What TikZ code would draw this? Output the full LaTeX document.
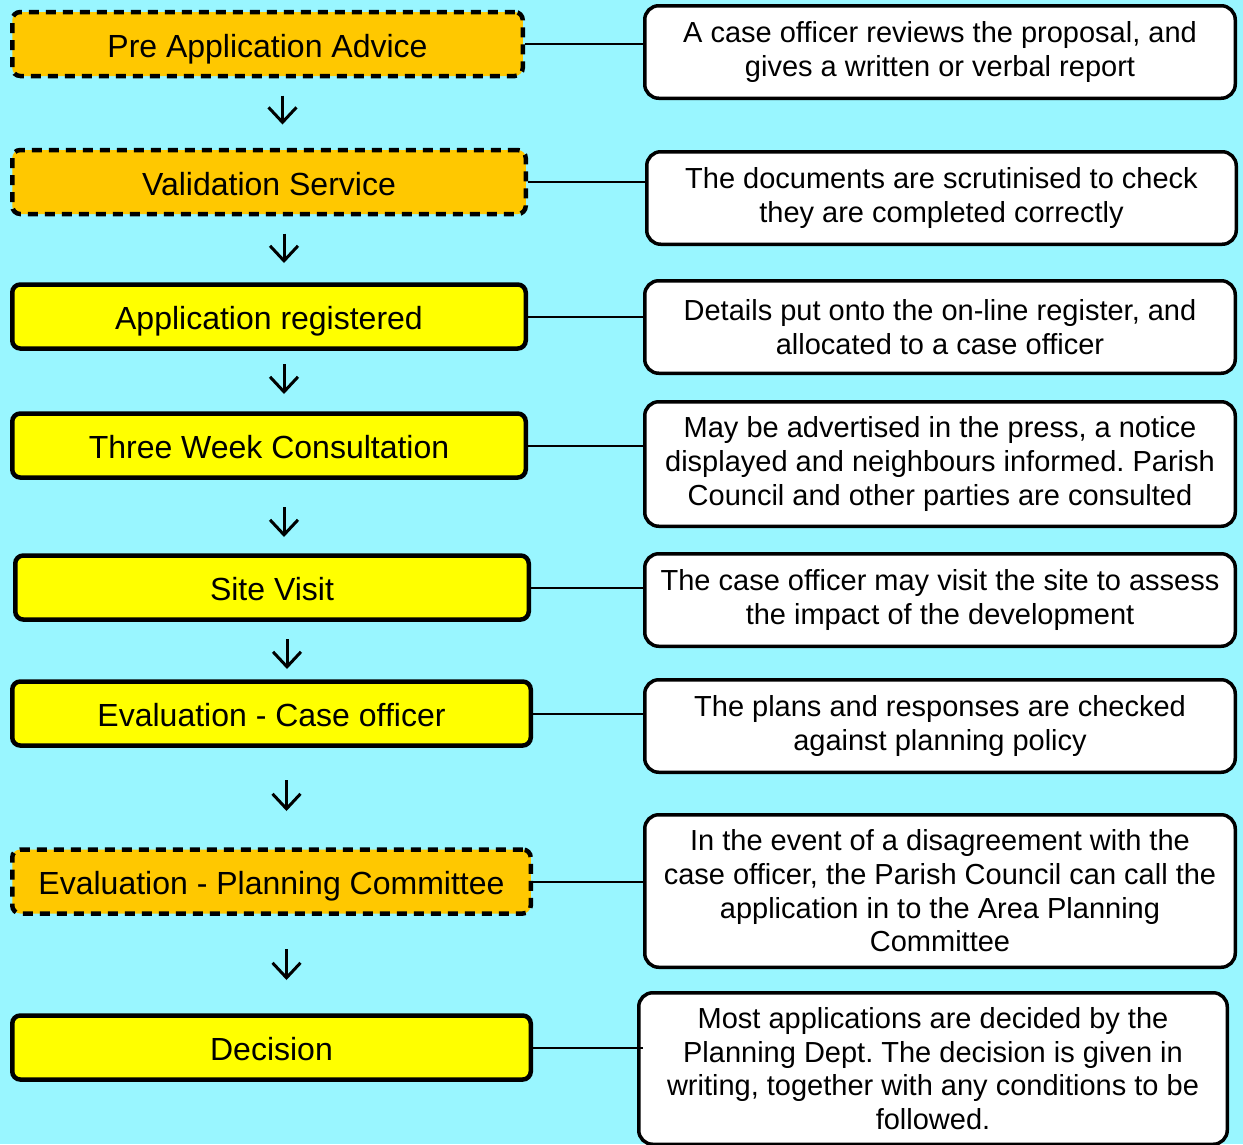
\documentclass[tikz,border=0pt]{standalone}
\usepackage{fontspec}
\setmainfont{Liberation Sans}
\usepackage{tikz}
\usetikzlibrary{arrows.meta,positioning,calc}
\definecolor{skycyan}{RGB}{153, 246, 255}
\definecolor{stageorange}{RGB}{255, 200, 0}
\definecolor{stageyellow}{RGB}{255, 255, 0}
\frenchspacing

\begin{document}
\begin{tikzpicture}[x=1pt,y=-1pt,
    stage/.style={draw=black,line width=4.5pt,rounded corners=8pt,fill=stageyellow,
        minimum height=64pt,inner sep=0pt,text height=30pt,text depth=4pt,
        font=\fontsize{32}{38}\selectfont},
    optstage/.style={stage,fill=stageorange,dash pattern=on 10pt off 7pt},
    infobox/.style={draw=black,line width=3.5pt,rounded corners=14pt,fill=white,
        minimum width=590.5pt,minimum height=92.5pt,inner sep=0pt,align=center,
        font=\fontsize{29}{33.7}\selectfont},
    link/.style={line width=2pt},
    steparrow/.style={line width=3pt,-{Straight Barb[length=15pt,width=28pt]}}]

    % Background
    \useasboundingbox (0,0) rectangle (1243,1144);
    \fill[skycyan] (0,0) rectangle (1243,1144);

    % Stages of the application
    \node[optstage,minimum width=510.5pt] (pre)  at (267.5,44)   {Pre Application Advice};
    \node[optstage,minimum width=513.5pt] (val)  at (269,182)    {Validation Service};
    \node[stage,minimum width=513.5pt]    (reg)  at (269,316.5)  {Application registered};
    \node[stage,minimum width=513.5pt]    (cons) at (269,445.5)  {Three Week Consultation};
    \node[stage,minimum width=513.5pt]    (site) at (272,587.5)  {Site Visit};
    \node[stage,minimum width=518.5pt]    (evco) at (271.5,713.5) {Evaluation - Case officer};
    \node[optstage,minimum width=518.5pt] (evpc) at (271.5,881.5) {Evaluation - Planning Committee};
    \node[stage,minimum width=518.5pt]    (dec)  at (271.5,1047.5) {Decision};

    % What happens at each stage
    \node[infobox] (preinfo)  at (940,52)    {A case officer reviews the proposal, and\\gives a written or verbal report};
    \node[infobox,minimum width=589.5pt] (valinfo) at (941.5,198) {The documents are scrutinised to check\\they are completed correctly};
    \node[infobox] (reginfo)  at (940,327)   {Details put onto the on-line register, and\\allocated to a case officer};
    \node[infobox,minimum height=124.5pt] (consinfo) at (940,464) {May be advertised in the press, a notice\\displayed and neighbours informed. Parish\\Council and other parties are consulted};
    \node[infobox] (siteinfo) at (940,600)   {The case officer may visit the site to assess\\the impact of the development};
    \node[infobox] (evcoinfo) at (940,726)   {The plans and responses are checked\\against planning policy};
    \node[infobox,minimum height=152.5pt] (evpcinfo) at (940,891) {In the event of a disagreement with the\\case officer, the Parish Council can call the\\application in to the Area Planning\\Committee};
    \node[infobox,minimum width=588.5pt,minimum height=151.5pt] (decinfo) at (933,1068.5) {Most applications are decided by the\\Planning Dept. The decision is given in\\writing, together with any conditions to be\\followed.};

    % Links from stage to its description
    \foreach \s in {pre,val,reg,cons,site,evco,evpc}
        \draw[link] (\s.east) -- (\s.east -| \s info.west);
    \draw[link,shorten >=-6pt] (dec.east) -- (dec.east -| decinfo.west);

    % Flow arrows
    \foreach \a/\b/\p/\q in {pre/val/17.25/23.25, val/reg/17.25/19.25, reg/cons/13.25/17.25,
            cons/site/27.25/16.25, site/evco/17.25/10.25, evco/evpc/32.25/36.25, evpc/dec/33.25/33.25}
        \draw[steparrow,shorten <=\p pt,shorten >=\q pt]
            ([xshift=15pt]\a.south) -- ([xshift=15pt]\a.south |- \b.north);
\end{tikzpicture}
\end{document}
